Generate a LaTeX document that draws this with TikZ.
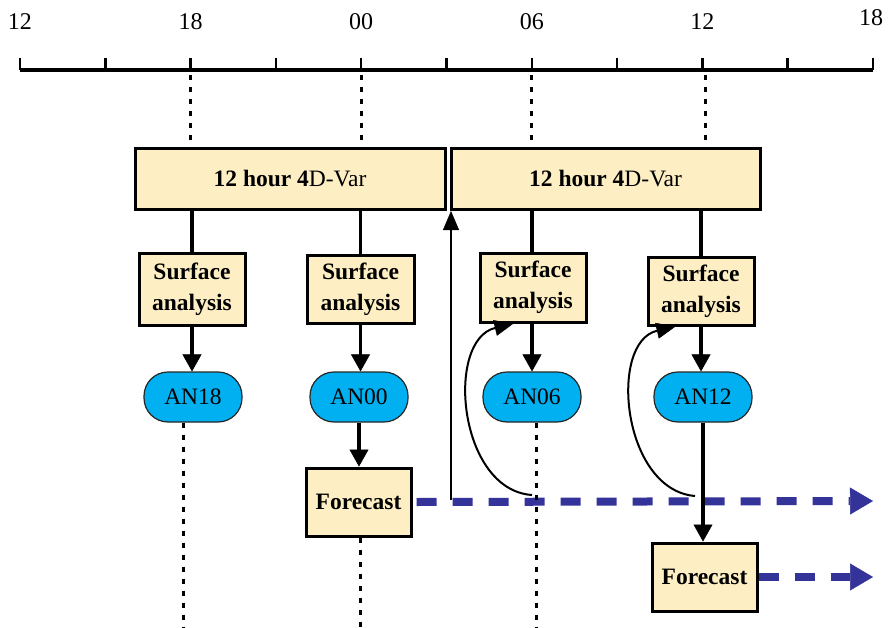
\documentclass[tikz,border=0pt]{standalone}
\usepackage{fontspec}
\setmainfont{Liberation Serif}
\usetikzlibrary{arrows.meta}
\definecolor{boxFill}{HTML}{FDEFC3}
\definecolor{anFill}{HTML}{00B0F0}
\definecolor{fcBlue}{HTML}{333399}

\begin{document}
\begin{tikzpicture}[x=1pt, y=-1pt,
    box/.style={draw, line width=3pt, fill=boxFill, inner sep=0pt, align=center,
        font=\fontsize{23.5}{31}\selectfont\bfseries},
    anbox/.style={draw=black!85, line width=1.2pt, fill=anFill, rounded corners=24pt,
        minimum width=98pt, minimum height=50pt, font=\fontsize{23.5}{28}\selectfont},
    link/.style={line width=3.5pt},
    flow/.style={link, -{Triangle[length=17pt, width=19pt, line width=0.5pt]}},
    timeline/.style={line width=3pt, dash pattern=on 5pt off 7pt},
    fcarrow/.style={fcBlue, line width=8pt, dash pattern=on 20pt off 16pt,
        -{Triangle[length=23pt, width=27pt, line width=0.5pt]}},
    feed/.style={line width=2pt, -{Triangle[length=19pt, width=16pt, line width=0.5pt]}}]
    \useasboundingbox (0,0) rectangle (890,628);

    % time axis
    \draw[line width=3.5pt] (20,70) -- (873,70);
    \foreach \i in {0,...,10} {
        \coordinate (t\i) at ({20+85.3*\i},70);
        \draw[line width=2.5pt] (t\i) -- ++(0,-12);
    }
    \foreach \i/\hr in {0/12, 2/18, 4/00, 6/06, 8/12} {
        \node[font=\fontsize{24}{28}\selectfont] (lab\i) at ([yshift=48pt]t\i) {\hr};
    }
    \node[font=\fontsize{24}{28}\selectfont] (lab10) at ([xshift=-2pt, yshift=52pt]t10) {18};

    % 4D-Var windows
    \node[box, minimum width=310pt, minimum height=61pt] (var1) at (290,179) {12 hour 4\textmd{D-Var}};
    \node[box, minimum width=309pt, minimum height=61pt] (var2) at (605.5,179) {12 hour 4\textmd{D-Var}};

    % surface analyses
    \node[box, minimum width=106pt, minimum height=72pt] (sa18) at (192,289) {Surface\\analysis};
    \node[box, minimum width=107pt, minimum height=68pt] (sa00) at (360.5,289) {Surface\\analysis};
    \node[box, minimum width=106pt, minimum height=69pt] (sa06) at (533,287.5) {Surface\\analysis};
    \node[box, minimum width=106pt, minimum height=68pt] (sa12) at (701,291) {Surface\\analysis};

    % analyses
    \node[anbox] (an18) at (193,397) {AN18};
    \node[anbox] (an00) at (359,397) {AN00};
    \node[anbox] (an06) at (532,397) {AN06};
    \node[anbox] (an12) at (703,397) {AN12};

    % forecasts
    \node[box, minimum width=105pt, minimum height=68pt] (fc00) at (358.5,502) {Forecast};
    \node[box, minimum width=105pt, minimum height=68pt] (fc12) at (704.5,577) {Forecast};

    % dotted time lines
    \draw[timeline] ([yshift=-5pt]t2) -- (t2 |- var1.north);
    \draw[timeline] ([yshift=-5pt]t4) -- (t4 |- var1.north);
    \draw[timeline] ([yshift=-5pt]t6) -- (t6 |- var2.north);
    \draw[timeline] ([xshift=3pt, yshift=-5pt]t8) -- ([xshift=3pt]t8 |- var2.north);

    % links from the windows
    \draw[link] (var1.south -| sa18.north) -- (sa18.north);
    \draw[link] (var1.south -| sa00.north) -- (sa00.north);
    \draw[link] (var2.south -| t6) -- (t6 |- sa06.north);
    \draw[link] (var2.south -| sa12.north) -- (sa12.north);

    \draw[flow] (sa18.south) -- (sa18.south |- an18.north);
    \draw[flow] (sa00.south) -- (sa00.south |- an00.north);
    \draw[flow] (an06.north |- sa06.south) -- (an06.north);
    \draw[flow] (sa12.south) -- (sa12.south |- an12.north);
    \draw[flow] (an00.south) -- (an00.south |- fc00.north);

    % forecast runs
    \coordinate (end00) at (873,501);
    \coordinate (end12) at (873,577);
    \draw[fcarrow] ([xshift=4pt]fc00.east) -- (end00);
    \draw[fcarrow] (fc12.east) -- (end12);

    \draw[flow] (an12.south) -- (an12.south |- fc12.north);

    % background fields fed back
    \coordinate (bg) at (451,500);
    \draw[feed] (bg) -- (bg |- var2.south);
    \coordinate (c06) at (532,495);
    \coordinate (c12) at (695,496);
    \draw[feed] (c06) .. controls (458,490) and (445,340) .. ([xshift=35pt]sa06.south west);
    \draw[feed] (c12) .. controls (622,490) and (608,342) .. ([xshift=29pt]sa12.south west);

    \draw[timeline] ([xshift=-10pt]an18.south) -- ([xshift=-10pt]an18.south |- 0,628);
    \draw[timeline] ([xshift=2pt]fc00.south) -- ([xshift=2pt]fc00.south |- 0,628);
    \draw[timeline] ([xshift=4pt]an06.south) -- ([xshift=4pt]an06.south |- 0,628);
\end{tikzpicture}
\end{document}
